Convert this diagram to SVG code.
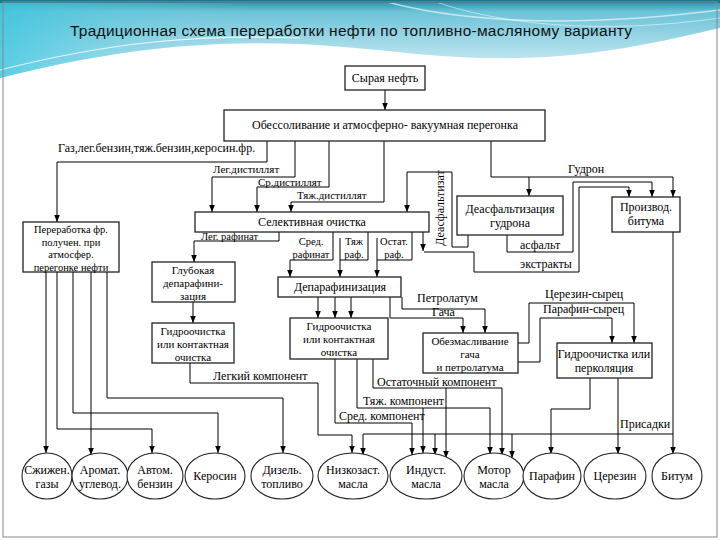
<svg xmlns="http://www.w3.org/2000/svg" width="720" height="540" viewBox="0 0 720 540">
<defs>
<linearGradient id="hg" x1="0" y1="0" x2="0" y2="1">
<stop offset="0" stop-color="#1f8aa4"/>
<stop offset="0.15" stop-color="#6cc3d8"/>
<stop offset="0.6" stop-color="#a9dcea"/>
<stop offset="1" stop-color="#d6eff5"/>
</linearGradient>
<linearGradient id="hg2" x1="0" y1="0" x2="1" y2="0">
<stop offset="0" stop-color="#3cc6df" stop-opacity="0.8"/>
<stop offset="0.35" stop-color="#7fd0e2" stop-opacity="0"/>
</linearGradient>
<marker id="a" viewBox="0 0 10 10" refX="10" refY="5" markerWidth="7" markerHeight="7" markerUnits="userSpaceOnUse" orient="auto">
<path d="M0,1 L10,5 L0,9 Z" fill="#000"/>
</marker>
<style>
.d text{font-family:'Liberation Serif','Times New Roman',Times,serif;font-size:12px;fill:#000}
.d .m{text-anchor:middle}
.d .s{font-size:10.5px}
.d .k{font-size:11px}
.b{fill:#fff;stroke:#222;stroke-width:1.3}
.e{fill:#fff;stroke:#222;stroke-width:1.1}
.c{fill:none;stroke:#000;stroke-width:1}
.ar{marker-end:url(#a)}
.ttl{font-family:'Liberation Sans',Arial,sans-serif;font-size:15.5px;fill:#111}
</style>
</defs>
<rect x="0" y="0" width="720" height="540" fill="#fff"/>
<g id="header">
<path d="M0,0 H720 V28 C660,42 600,56 520,58 C440,60 380,48 300,44 C200,40 110,50 0,78 Z" fill="url(#hg)"/>
<path d="M0,0 H720 V28 C660,42 600,56 520,58 C440,60 380,48 300,44 C200,40 110,50 0,78 Z" fill="url(#hg2)"/>
<path d="M0,70 C110,42 200,34 300,38" fill="none" stroke="#fff" stroke-width="1.2" opacity="0.8"/>
<path d="M380,0 C450,20 560,30 720,10" fill="none" stroke="#fff" stroke-width="1.5" opacity="0.6"/>
<path d="M430,0 C500,25 600,35 720,18" fill="none" stroke="#fff" stroke-width="1" opacity="0.5"/>
<rect x="0" y="0" width="720" height="3" fill="#1a7890"/>
<text class="ttl" x="70" y="36" textLength="562" lengthAdjust="spacing">Традиционная схема переработки нефти по топливно-масляному варианту</text>
</g>
<rect x="3" y="2" width="714" height="535" fill="none" stroke="#888" stroke-width="1"/>
<g id="connectors">
<path class="c ar" d="M385,90 V110"/>
<path class="c ar" d="M267,141 V162 H57 V222"/>
<path class="c ar" d="M295,141 V177 H212 V212"/>
<path class="c ar" d="M329,141 V187 H257 V212"/>
<path class="c ar" d="M384,141 V202 H291 V212"/>
<path class="c ar" d="M491,141 V177 H673 V197"/>
<path class="c ar" d="M529,177 V196"/>
<path class="c ar" d="M468,235 V247 H452 V172 H407 V212"/>
<path class="c ar" d="M507,235 V252 H573 V182 H652 V197"/>
<path class="c ar" d="M423,232 V251"/>
<path class="c ar" d="M424,252 H474 V272 H579 V187 H629 V197"/>
<path class="c ar" d="M279,232 V241 H194 V262"/>
<path class="c ar" d="M193,302 V323"/>
<path class="c ar" d="M333,232 V260 H290 V277"/>
<path class="c" d="M368,232 V260 H340"/>
<path class="c ar" d="M340,238 V277"/>
<path class="c" d="M412,232 V260 H377"/>
<path class="c ar" d="M377,238 V277"/>
<path class="c ar" d="M318,297 V318"/>
<path class="c ar" d="M335,297 V318"/>
<path class="c ar" d="M351,297 V318"/>
<path class="c ar" d="M402,297 V309 H485 V333"/>
<path class="c ar" d="M390,297 V318 H463 V333"/>
<path class="c ar" d="M518,343 H529 V303 H634 V343"/>
<path class="c ar" d="M518,362 H540 V318 H612 V343"/>
<path class="c ar" d="M590,378 V409 H551 V454"/>
<path class="c ar" d="M618,378 V454"/>
<path class="c ar" d="M673,232 V454"/>
<path class="c ar" d="M673,434 H363 V455"/>
<path class="c ar" d="M435,434 V455"/>
<path class="c ar" d="M512,434 V458"/>
<path class="c ar" d="M190,363 V383 H318 V435 H352 V453"/>
<path class="c ar" d="M373,359 V388 H502 V455"/>
<path class="c ar" d="M446,388 V458"/>
<path class="c ar" d="M357,359 V408 H490 V454"/>
<path class="c ar" d="M423,408 V453"/>
<path class="c ar" d="M335,359 V423 H412 V455"/>
<path class="c ar" d="M46,272 V453"/>
<path class="c ar" d="M57,272 V429 H152 V453"/>
<path class="c ar" d="M73,272 V413 H218 V453"/>
<path class="c ar" d="M91,272 V455"/>
<path class="c ar" d="M107,272 V398 H283 V453"/>
</g>
<g class="d" font-family="Liberation Serif, serif">
<g id="labels">
<text x="58" y="152">Газ,лег.бензин,тяж.бензин,керосин.фр.</text>
<text class="k" x="213" y="173">Лег.дистиллят</text>
<text class="k" x="258" y="186">Ср.дистиллят</text>
<text class="k" x="297" y="199">Тяж.дистиллят</text>
<text x="568" y="173">Гудрон</text>
<text class="m" transform="translate(444,208) rotate(-90)">Деасфальтизат</text>
<text x="520" y="249">асфальт</text>
<text x="520" y="268">экстракты</text>
<text class="s" x="201" y="240">Лег. рафинат</text>
<text class="s m" x="311" y="245">Сред.</text>
<text class="s m" x="311" y="258">рафинат</text>
<text class="s m" x="354" y="245">Тяж</text>
<text class="s m" x="354" y="258">раф.</text>
<text class="s m" x="394" y="245">Остат.</text>
<text class="s m" x="394" y="258">раф.</text>
<text x="417" y="302">Петролатум</text>
<text x="432" y="316">Гача</text>
<text x="545" y="298">Церезин-сырец</text>
<text x="543" y="313">Парафин-сырец</text>
<text x="213" y="380">Легкий компонент</text>
<text x="377" y="386">Остаточный компонент</text>
<text x="363" y="405">Тяж. компонент</text>
<text x="339" y="420">Сред. компонент</text>
<text x="620" y="428">Присадки</text>
</g>
<g id="n-crude"><rect class="b" x="345" y="66" width="80" height="24"/><text class="m" x="385" y="82">Сырая нефть</text></g>
<g id="n-ad"><rect class="b" x="224" y="110" width="321" height="31"/><text class="m" x="385" y="129">Обессоливание и атмосферно- вакуумная перегонка</text></g>
<g id="n-perer"><rect class="b" x="23" y="222" width="96" height="50"/><text class="m s" x="71" y="233">Переработка фр.</text><text class="m s" x="71" y="245.5">получен. при</text><text class="m s" x="71" y="258">атмосфер.</text><text class="m s" x="71" y="270.5">перегонке нефти</text></g>
<g id="n-sel"><rect class="b" x="195" y="212" width="234" height="20"/><text class="m" x="312" y="226">Селективная очистка</text></g>
<g id="n-glub"><rect class="b" x="152" y="262" width="83" height="40"/><text class="m k" x="193" y="274">Глубокая</text><text class="m k" x="193" y="287">депарафини-</text><text class="m k" x="193" y="300">зация</text></g>
<g id="n-gidro1"><rect class="b" x="152" y="323" width="82" height="40"/><text class="m k" x="193" y="335">Гидроочистка</text><text class="m k" x="193" y="348">или контактная</text><text class="m k" x="193" y="361">очистка</text></g>
<g id="n-depar"><rect class="b" x="278" y="277" width="123" height="20"/><text class="m" x="340" y="291">Депарафинизация</text></g>
<g id="n-gidro2"><rect class="b" x="290" y="318" width="98" height="41"/><text class="m k" x="339" y="330">Гидроочистка</text><text class="m k" x="339" y="343">или контактная</text><text class="m k" x="339" y="356">очистка</text></g>
<g id="n-deasf"><rect class="b" x="457" y="196" width="106" height="39"/><text class="m" x="510" y="213">Деасфальтизация</text><text class="m" x="510" y="227">гудрона</text></g>
<g id="n-bitprod"><rect class="b" x="612" y="197" width="68" height="35"/><text class="m" x="646" y="211">Производ.</text><text class="m" x="646" y="225">битума</text></g>
<g id="n-obezm"><rect class="b" x="423" y="333" width="95" height="40"/><text class="m k" x="470" y="345">Обезмасливание</text><text class="m k" x="470" y="358">гача</text><text class="m k" x="470" y="371">и петролатума</text></g>
<g id="n-gidro3"><rect class="b" x="557" y="343" width="95" height="35"/><text class="m" x="604" y="358">Гидроочистка или</text><text class="m" x="604" y="372">перколяция</text></g>
<g id="p-gas"><ellipse class="e" cx="47" cy="476" rx="25" ry="23"/><text class="m" x="47" y="474">Сжижен.</text><text class="m" x="47" y="488">газы</text></g>
<g id="p-arom"><ellipse class="e" cx="100" cy="476" rx="28" ry="23"/><text class="m" x="100" y="474">Аромат.</text><text class="m" x="100" y="488">углевод.</text></g>
<g id="p-benz"><ellipse class="e" cx="155" cy="476" rx="28" ry="23"/><text class="m" x="155" y="474">Автом.</text><text class="m" x="155" y="488">бензин</text></g>
<g id="p-kero"><ellipse class="e" cx="215" cy="476" rx="30" ry="23"/><text class="m" x="215" y="480">Керосин</text></g>
<g id="p-dies"><ellipse class="e" cx="282" cy="476" rx="31" ry="23"/><text class="m" x="282" y="474">Дизель.</text><text class="m" x="282" y="488">топливо</text></g>
<g id="p-low"><ellipse class="e" cx="353" cy="476" rx="35" ry="23"/><text class="m" x="353" y="474">Низкозаст.</text><text class="m" x="353" y="488">масла</text></g>
<g id="p-ind"><ellipse class="e" cx="426" cy="476" rx="36" ry="23"/><text class="m" x="426" y="474">Индуст.</text><text class="m" x="426" y="488">масла</text></g>
<g id="p-mot"><ellipse class="e" cx="494" cy="476" rx="30" ry="23"/><text class="m" x="494" y="474">Мотор</text><text class="m" x="494" y="488">масла</text></g>
<g id="p-par"><ellipse class="e" cx="552" cy="476" rx="29" ry="23"/><text class="m" x="552" y="480">Парафин</text></g>
<g id="p-cer"><ellipse class="e" cx="615" cy="476" rx="31" ry="23"/><text class="m" x="615" y="480">Церезин</text></g>
<g id="p-bit"><ellipse class="e" cx="677" cy="476" rx="25" ry="23"/><text class="m" x="677" y="480">Битум</text></g>
</g>
</svg>
